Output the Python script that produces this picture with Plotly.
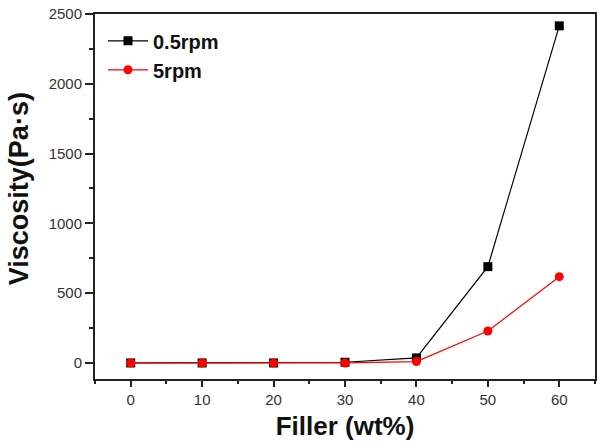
import plotly.graph_objects as go

filler = [0, 10, 20, 30, 40, 50, 60]
visc_05rpm = [0, 0, 0, 5, 36, 690, 2415]
visc_5rpm = [0, 0, 0, 0, 10, 229, 618]
series_names = ["0.5rpm", "5rpm"]

fig = go.Figure()
fig.add_trace(go.Scatter(
    x=filler, y=visc_05rpm, mode="lines+markers", name=series_names[0],
    line=dict(color="black", width=1.2),
    marker=dict(symbol="square", size=9, color="black"),
))
fig.add_trace(go.Scatter(
    x=filler, y=visc_5rpm, mode="lines+markers", name=series_names[1],
    line=dict(color="red", width=1.2),
    marker=dict(symbol="circle", size=9, color="red"),
))

axis_common = dict(
    showline=True, linecolor="#222", linewidth=2, mirror=True, automargin=False,
    showgrid=False, zeroline=False, ticks="outside", tickcolor="#222",
    tickfont=dict(family="Arial, Liberation Sans", size=15, color="#333"),
)

fig.update_xaxes(
    range=[-5, 65], tickvals=filler, ticklen=6, tickwidth=1.5,
    minor=dict(dtick=5, tick0=5, ticks="outside", ticklen=3, tickcolor="#222", tickwidth=1.5),
    title=dict(text="<b>Filler (wt%)</b>", font=dict(family="Arial, Liberation Sans", size=26, color="#111"), standoff=10),
    **axis_common,
)
fig.update_yaxes(
    range=[-115, 2500], tickvals=[0, 500, 1000, 1500, 2000, 2500], ticklen=8, tickwidth=1.5,
    minor=dict(dtick=250, tick0=0, ticks="outside", ticklen=4, tickcolor="#222", tickwidth=1.5),
    **axis_common,
)

fig.add_annotation(
    text="<b>Viscosity(Pa·s)</b>", xref="paper", yref="paper",
    x=-0.152, y=0.52, xanchor="center", yanchor="middle", textangle=-90,
    showarrow=False, font=dict(family="Arial, Liberation Sans", size=27, color="#111"),
)

fig.update_layout(
    width=597, height=445,
    margin=dict(l=95, r=2, t=14, b=66),
    plot_bgcolor="white", paper_bgcolor="white",
    showlegend=True,
    legend=dict(
        x=0.016, y=0.98, xanchor="left", yanchor="top",
        font=dict(family="Arial, Liberation Sans", size=20, color="#111", weight="bold"),
        bgcolor="rgba(0,0,0,0)", itemwidth=40, tracegroupgap=0,
    ),
)

fig.write_html("out.html", config={"displayModeBar": False},
               post_script="document.body.style.margin='0';")
